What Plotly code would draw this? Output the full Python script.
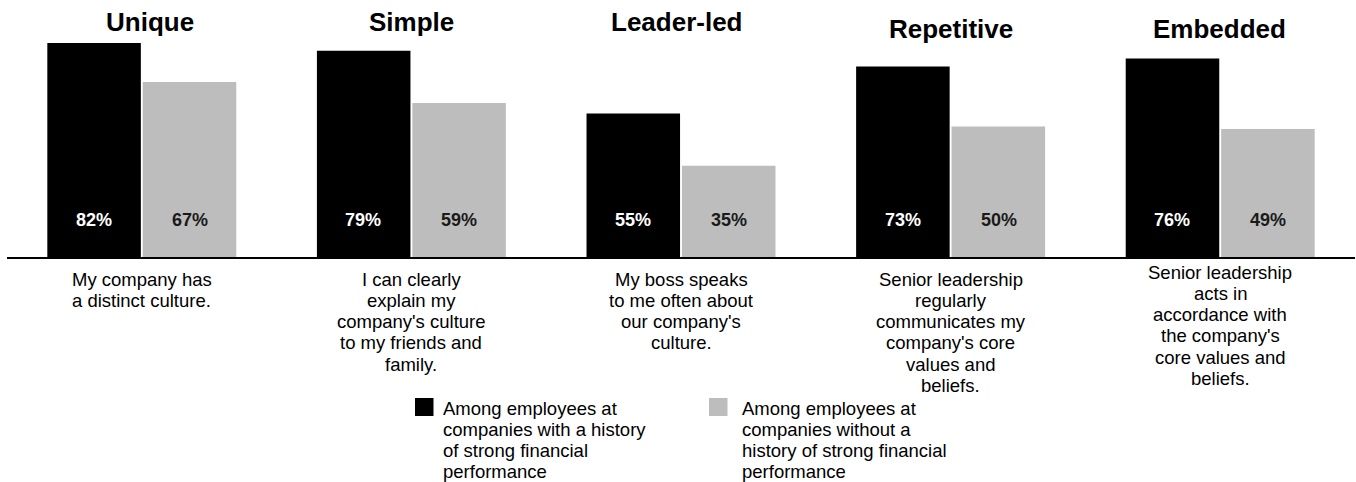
import plotly.graph_objects as go

# ---------------- data ----------------
titles = ["Unique", "Simple", "Leader-led", "Repetitive", "Embedded"]
strong_values = [82, 79, 55, 73, 76]
weak_values = [67, 59, 35, 50, 49]
descriptions = [
    ["My company has", "a distinct culture."],
    ["I can clearly", "explain my", "company's culture", "to my friends and", "family."],
    ["My boss speaks", "to me often about", "our company's", "culture."],
    ["Senior leadership", "regularly", "communicates my", "company's core", "values and", "beliefs."],
    ["Senior leadership", "acts in", "accordance with", "the company's", "core values and", "beliefs."],
]
legend_strong = ["Among employees at", "companies with a history", "of strong financial", "performance"]
legend_weak = ["Among employees at", "companies without a", "history of strong financial", "performance"]

# ---------------- layout geometry (pixels) ----------------
W, H = 1356, 482
L, R = 7, 1
BASE = 257          # baseline pixel y
TOP = 9             # plot top pixel y
PW = W - L - R
PH = BASE - TOP
FONT = "Arial, 'Liberation Sans', Helvetica, sans-serif"
BLACK = "#000000"
GRAY = "#BDBDBD"


def px_x(px):
    return (px - L) / PW


def px_y(py):
    return (BASE - py) / PH


fig = go.Figure()
fig.add_trace(go.Bar(x=titles, y=strong_values, marker=dict(color=BLACK, line=dict(width=0)),
                     name=" ".join(legend_strong), showlegend=False, hoverinfo="skip"))
fig.add_trace(go.Bar(x=titles, y=weak_values, marker=dict(color=GRAY, line=dict(width=0)),
                     name=" ".join(legend_weak), showlegend=False, hoverinfo="skip"))

annotations = []
# group titles
title_px = [(150, 22), (411, 22), (677, 22), (951, 29), (1219, 29)]
for t, (tx, ty) in zip(titles, title_px):
    annotations.append(dict(text=f"<b>{t}</b>", x=px_x(tx), y=px_y(ty), xref="paper", yref="paper",
                            xanchor="center", yanchor="middle", showarrow=False,
                            font=dict(family=FONT, size=26, color="#000")))

# value labels inside bars
BAR_OFF = 0.177  # fraction of category (half bar slot)
for i, (s, w) in enumerate(zip(strong_values, weak_values)):
    annotations.append(dict(text=f"<b>{s}%</b>", x=i, y=14, xref="x", yref="y", xshift=-48,
                            showarrow=False, xanchor="center", yanchor="middle",
                            font=dict(family=FONT, size=18, color="#FFFFFF")))
    annotations.append(dict(text=f"<b>{w}%</b>", x=i, y=14, xref="x", yref="y", xshift=48,
                            showarrow=False, xanchor="center", yanchor="middle",
                            font=dict(family=FONT, size=18, color="#1a1a1a")))

# descriptions under each group
first_line_y = [279, 279, 279, 279, 272]
STEP = 21.3
for i, lines in enumerate(descriptions):
    for j, line in enumerate(lines):
        annotations.append(dict(text=line, x=i, y=px_y(first_line_y[i] + j * STEP), xref="x", yref="paper",
                                xanchor="center", yanchor="middle", showarrow=False,
                                font=dict(family=FONT, size=18.5, color="#000")))

# legend
shapes = []
legend_items = [(legend_strong, BLACK, 415, 441), (legend_weak, GRAY, 709, 740)]
for lines, col, sq_x, tx in legend_items:
    shapes.append(dict(type="rect", xref="paper", yref="paper",
                       x0=px_x(sq_x), x1=px_x(sq_x + 18.5), y0=px_y(398), y1=px_y(416),
                       fillcolor=col, line=dict(width=0)))
    for j, line in enumerate(lines):
        annotations.append(dict(text=line, x=px_x(tx), y=px_y(408 + j * 21), xref="paper", yref="paper",
                                xanchor="left", yanchor="middle", showarrow=False,
                                font=dict(family=FONT, size=18.5, color="#000")))

fig.update_layout(
    width=W, height=H,
    margin=dict(l=L, r=R, t=TOP, b=H - BASE),
    paper_bgcolor="white", plot_bgcolor="white",
    barmode="group", bargap=0.292, bargroupgap=0.02,
    showlegend=False,
    xaxis=dict(showticklabels=False, ticks="", showgrid=False, zeroline=False,
               showline=True, linecolor="#000", linewidth=2, range=[-0.5, 4.5]),
    yaxis=dict(range=[0, 95], visible=False, showgrid=False, zeroline=False),
    annotations=annotations,
    shapes=shapes,
    font=dict(family=FONT),
)

fig.write_html("out.html")
